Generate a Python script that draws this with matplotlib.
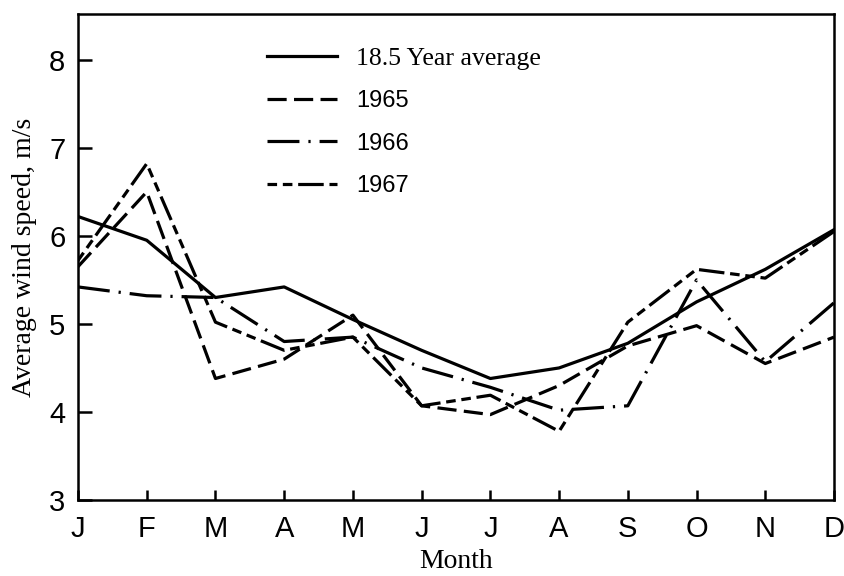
import matplotlib
matplotlib.use("Agg")
import matplotlib.pyplot as plt
import numpy as np

months = ["J", "F", "M", "A", "M", "J", "J", "A", "S", "O", "N", "D"]
avg_18_5 = [6.22, 5.95, 5.30, 5.42, 5.05, 4.70, 4.38, 4.50, 4.78, 5.25, 5.62, 6.07]
y1965 = [5.65, 6.50, 4.38, 4.60, 5.10, 4.07, 3.97, 4.30, 4.75, 4.98, 4.55, 4.85]
y1966 = [5.42, 5.32, 5.30, 4.80, 4.85, 4.50, 4.28, 4.02, 4.07, 5.50, 4.57, 5.24]
y1967 = [5.72, 6.82, 5.02, 4.70, 4.85, 4.07, 4.19, 3.78, 5.02, 5.62, 5.52, 6.05]
labels = ["18.5 Year average", "1965", "1966", "1967"]

fig = plt.figure(figsize=(8.45, 5.76), dpi=100)
ax = fig.add_axes([78/845, 1-500/576, (834-78)/845, (500-14)/576])

x = np.arange(len(months))
lw = 2.3
l0, = ax.plot(x, avg_18_5, color="black", lw=lw, label=labels[0])
l1, = ax.plot(x, y1965, color="black", lw=lw, dashes=(6, 2.3), label=labels[1])
l2, = ax.plot(x, y1966, color="black", lw=lw, dashes=(10, 2.8, 0.7, 2.8), label=labels[2])
l3, = ax.plot(x, y1967, color="black", lw=lw, dashes=(3, 1.8, 3, 1.8, 8, 1.8), label=labels[3])

ax.set_xlim(0, 11)
ax.set_ylim(3, 8.52)
ax.set_xticks(x)
ax.set_xticklabels(months)
ax.set_yticks([3, 4, 5, 6, 7, 8])

for s in ax.spines.values():
    s.set_linewidth(1.8)

ax.tick_params(axis="y", direction="in", length=10, width=1.8, labelsize=21, pad=9)
ax.tick_params(axis="x", direction="in", length=7, width=1.8, labelsize=21, pad=11)
for t in ax.get_xticklabels() + ax.get_yticklabels():
    t.set_fontfamily("Liberation Sans")

ax.set_xlabel("Month", fontfamily="Liberation Serif", fontsize=20, labelpad=4)
ax.set_ylabel("Average wind speed, m/s", fontfamily="Liberation Serif", fontsize=20, labelpad=9)

leg = ax.legend(handles=[l0, l1, l2, l3], loc="upper left", bbox_to_anchor=(0.235, 0.955),
                frameon=False, fontsize=17, handlelength=2.95, handletextpad=0.8,
                labelspacing=0.87, borderpad=0)
texts = leg.get_texts()
texts[0].set_fontfamily("Liberation Serif")
texts[0].set_fontsize(18.5)
for t in texts[1:]:
    t.set_fontfamily("Liberation Sans")

fig.savefig("out.png", dpi=100)
